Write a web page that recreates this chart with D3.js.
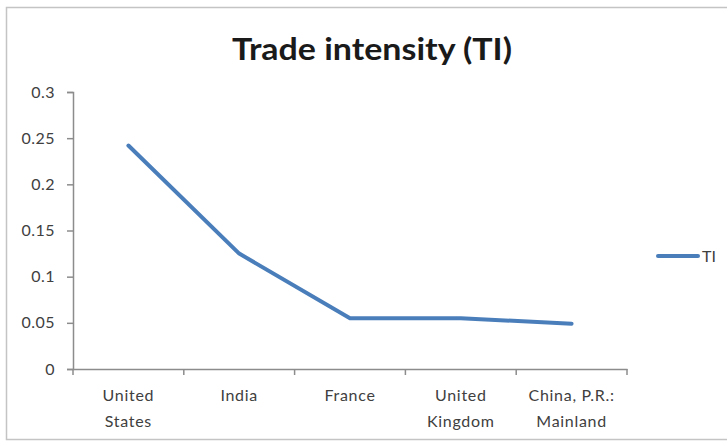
<!DOCTYPE html>
<html>
<head>
<meta charset="utf-8">
<script src="https://cdn.jsdelivr.net/npm/d3@7"></script>
<style>
  body { margin: 0; background: #fff; }
  svg { display: block; }
</style>
</head>
<body>
<svg id="chart"></svg>
<script>
// chart data
const categories = ["United States", "India", "France", "United Kingdom", "China, P.R.: Mainland"];
const tickLabels = [["United", "States"], ["India"], ["France"], ["United", "Kingdom"], ["China, P.R.:", "Mainland"]];
const tiValues = [0.242, 0.125, 0.055, 0.055, 0.049];
const yTicks = [0, 0.05, 0.1, 0.15, 0.2, 0.25, 0.3];
const yTickLabels = ["0", "0.05", "0.1", "0.15", "0.2", "0.25", "0.3"];
const seriesName = "TI";
const chartTitle = "Trade intensity (TI)";

function getConfig() {
    let width = 727;
    let height = 442;
    let container = d3.select("#chart")
        .attr("width", width)
        .attr("height", height);
    return {width, height, container};
}

const lineColor = "#4a7ebb";
const axisColor = "#8c8c8c";
const textColor = "#404040";
const font = "Lato, 'Open Sans', sans-serif";

function drawChart() {
    const config = getConfig();
    const svg = config.container;

    // outer chart frame
    svg.append("rect")
        .attr("x", 6.5).attr("y", 7.5)
        .attr("width", 740).attr("height", 432)
        .attr("fill", "#fff")
        .attr("stroke", "#c4c4c4")
        .attr("stroke-width", 1.5);

    const x = d3.scaleBand().domain(categories).range([73, 627]);
    const y = d3.scaleLinear().domain([0, 0.3]).range([369, 92]);

    // title
    svg.append("text")
        .attr("x", 372).attr("y", 60)
        .attr("text-anchor", "middle")
        .attr("font-family", font)
        .attr("font-weight", "bold")
        .attr("font-size", 31)
        .attr("fill", "#1a1a1a")
        .attr("textLength", 280)
        .attr("lengthAdjust", "spacingAndGlyphs")
        .text(chartTitle);

    // y axis
    const yAxis = svg.append("g")
        .attr("transform", "translate(73,0)")
        .call(d3.axisLeft(y).tickValues(yTicks).tickSize(6).tickPadding(12)
            .tickFormat((d, i) => yTickLabels[i]));
    yAxis.selectAll("path, line").attr("stroke", axisColor).attr("stroke-width", 1.5);
    yAxis.selectAll("text")
        .attr("font-family", font)
        .attr("font-size", 16)
        .attr("letter-spacing", 0.5)
        .attr("fill", textColor);

    // x axis line
    const xAxis = svg.append("g")
        .attr("transform", "translate(0,369)")
        .call(d3.axisBottom(x).tickSize(0).tickFormat(""));
    xAxis.select("path").attr("stroke", axisColor).attr("stroke-width", 1.5);
    xAxis.selectAll(".tick").remove();

    // x tick marks at category boundaries
    const edges = categories.map(c => x(c)).concat([x.range()[1]]);
    svg.selectAll("line.xtick")
        .data(edges)
        .enter()
        .append("line")
        .attr("class", "xtick")
        .attr("x1", d => d).attr("x2", d => d)
        .attr("y1", 369).attr("y2", 375)
        .attr("stroke", axisColor)
        .attr("stroke-width", 1.5);

    // x labels
    const labels = svg.selectAll("text.xlabel")
        .data(categories)
        .enter()
        .append("text")
        .attr("class", "xlabel")
        .attr("text-anchor", "middle")
        .attr("font-family", font)
        .attr("font-size", 16)
        .attr("letter-spacing", 0.7)
        .attr("fill", textColor);
    labels.each(function(d, i) {
        const t = d3.select(this);
        tickLabels[i].forEach((line, j) => {
            t.append("tspan")
                .attr("x", x(d) + x.bandwidth() / 2)
                .attr("y", 401 + j * 26)
                .text(line);
        });
    });

    // series line
    const line = d3.line()
        .x((d, i) => x(categories[i]) + x.bandwidth() / 2)
        .y(d => y(d));
    svg.append("path")
        .datum(tiValues)
        .attr("d", line)
        .attr("fill", "none")
        .attr("stroke", lineColor)
        .attr("stroke-width", 4)
        .attr("stroke-linejoin", "round")
        .attr("stroke-linecap", "round");

    // legend
    svg.append("line")
        .attr("x1", 658).attr("x2", 698)
        .attr("y1", 256).attr("y2", 256)
        .attr("stroke", lineColor)
        .attr("stroke-width", 4)
        .attr("stroke-linecap", "round");
    svg.append("text")
        .attr("x", 702).attr("y", 262)
        .attr("font-family", font)
        .attr("font-size", 16)
        .attr("fill", textColor)
        .text(seriesName);
}

drawChart();
</script>
</body>
</html>
